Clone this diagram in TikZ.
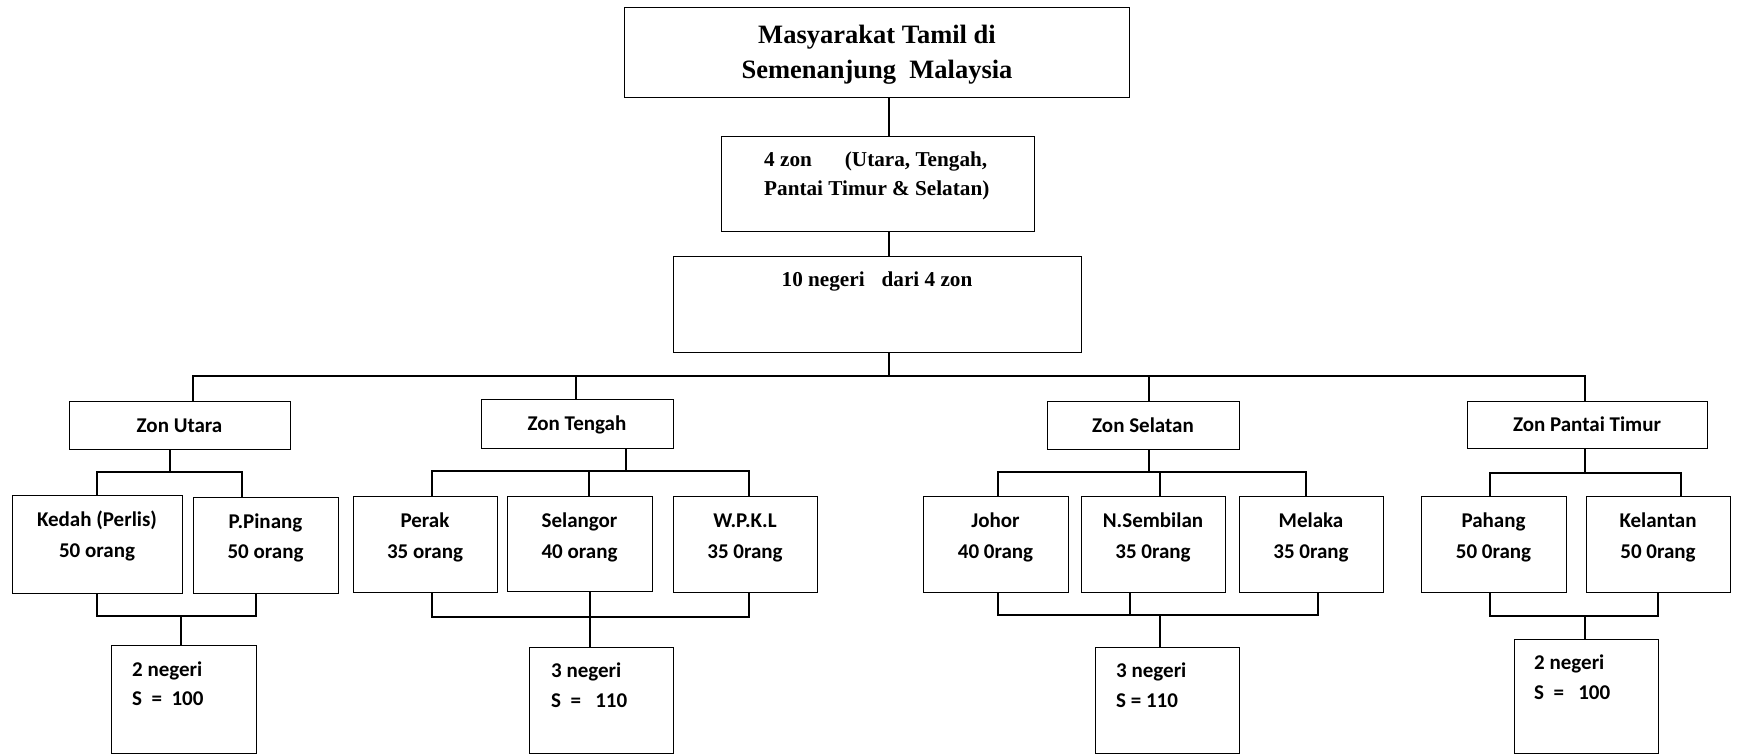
\documentclass[tikz,border=0pt]{standalone}
\usepackage{fontspec}
\setmainfont{Liberation Serif}
\newfontfamily\calfont{Carlito}
\usetikzlibrary{calc}
\tikzset{
  box/.style={draw, line width=1.4pt, anchor=north west, inner sep=0pt},
  conn/.style={line width=1.4pt},
  cal/.style={font=\calfont\bfseries\fontsize{21}{25}\selectfont, inner sep=0pt, anchor=base},
  calw/.style={cal, anchor=base west},
  tms/.style={font=\bfseries\fontsize{21.2}{25}\selectfont, inner sep=0pt, anchor=base},
  tmsw/.style={tms, anchor=base west},
  big/.style={font=\bfseries\fontsize{26.5}{30}\selectfont, inner sep=0pt, anchor=base},
}
\newcommand\mybox[5]{\node[box, minimum width={(#4-#2)*1pt}, minimum height={(#5-#3)*1pt}] (#1) at (#2,#3) {};}
\begin{document}
\begin{tikzpicture}[x=1pt,y=-1pt]
\useasboundingbox (0,0) rectangle (1738,755);
% ---------- boxes
\mybox{top}{624}{7}{1129}{97}
\mybox{zonb}{721}{136}{1034}{231}
\mybox{neg}{673}{256}{1081}{352}
\mybox{zu}{69}{401}{290}{449}
\mybox{zt}{481}{399}{673}{448}
\mybox{zs}{1047}{401}{1239}{449}
\mybox{zp}{1467}{401}{1707}{448}
\mybox{kedah}{12}{495}{182}{593}
\mybox{pinang}{193}{497}{338}{593}
\mybox{perak}{353}{496}{497}{592}
\mybox{selangor}{507}{496}{652}{591}
\mybox{wpkl}{673}{496}{817}{592}
\mybox{johor}{923}{496}{1068}{592}
\mybox{nsemb}{1081}{496}{1225}{592}
\mybox{melaka}{1239}{496}{1383}{592}
\mybox{pahang}{1421}{496}{1566}{592}
\mybox{kelantan}{1586}{496}{1730}{592}
\mybox{sumU}{111}{645}{256}{753}
\mybox{sumT}{529}{647}{673}{753}
\mybox{sumS}{1095}{647}{1239}{753}
\mybox{sumP}{1514}{639}{1658}{753}
% ---------- texts
\node[big] (t1) at (877,43) {Masyarakat Tamil di};
\node[big] (t2) at (877,78) {Semenanjung~ Malaysia};
\node[tmsw] (z1) at (764,166) {4 zon\hspace{33pt}(Utara, Tengah,};
\node[tmsw] (z2) at (764,195) {Pantai Timur \& Selatan)};
\node[tms] (n10) at (877,286) {10 negeri\hspace{17pt}dari 4 zon};
\node[cal] (lzu) at (179.5,432) {Zon Utara};
\node[cal] (lzt) at (577,430) {Zon Tengah};
\node[cal] (lzs) at (1143,432) {Zon Selatan};
\node[cal] (lzp) at (1587,431) {Zon Pantai Timur};
\node[cal] (lk1) at (97,526) {Kedah (Perlis)};
\node[cal] (lk2) at (97,557) {50 orang};
\node[cal] (lp1) at (265.5,528) {P.Pinang};
\node[cal] (lp2) at (265.5,558) {50 orang};
\node[cal] (lpr1) at (425,527) {Perak};
\node[cal] (lpr2) at (425,558) {35 orang};
\node[cal] (ls1) at (579.5,527) {Selangor};
\node[cal] (ls2) at (579.5,558) {40 orang};
\node[cal] (lw1) at (745,527) {W.P.K.L};
\node[cal] (lw2) at (745,558) {35 0rang};
\node[cal] (lj1) at (995.5,527) {Johor};
\node[cal] (lj2) at (995.5,558) {40 0rang};
\node[cal] (ln1) at (1153,527) {N.Sembilan};
\node[cal] (ln2) at (1153,558) {35 0rang};
\node[cal] (lm1) at (1311,527) {Melaka};
\node[cal] (lm2) at (1311,558) {35 0rang};
\node[cal] (lh1) at (1493.5,527) {Pahang};
\node[cal] (lh2) at (1493.5,558) {50 0rang};
\node[cal] (lkl1) at (1658,527) {Kelantan};
\node[cal] (lkl2) at (1658,558) {50 0rang};
\node[calw] (su1) at (132,676) {2 negeri};
\node[calw] (su2) at (132,705) {S~~=~~100};
\node[calw] (st1) at (551,677) {3 negeri};
\node[calw] (st2) at (551,707) {S~~=~~~110};
\node[calw] (ss1) at (1116,677) {3 negeri};
\node[calw] (ss2) at (1116,707) {S = 110};
\node[calw] (sp1) at (1534,669) {2 negeri};
\node[calw] (sp2) at (1534,699) {S~~=~~~100};
% ---------- helper coordinates
\coordinate (xa) at (889,0);
\coordinate (bus) at (889,376);
\foreach \v in {97,193,242,256,432,576,589,749,998,1130,1160,1306,1318,1490,1585,1658,1681}
  {\coordinate (x\v) at (\v,0);}
% ---------- spine
\draw[conn] (top.south -| xa) -- (zonb.north -| xa);
\draw[conn] (zonb.south -| xa) -- (neg.north -| xa);
\draw[conn] (neg.south -| xa) -- (bus);
\draw[conn] (zu.north -| x193) |- (bus) -| (zp.north -| x1585);
\draw[conn] (zt.north -| x576) |- (bus);
\coordinate (sA) at (1149,472);
\draw[conn] (zs.north -| sA) |- (bus);
% ---------- Zon Utara
\coordinate (uA) at (170,472);
\coordinate (uB) at (181,616);
\draw[conn] (zu.south -| uA) -- (uA);
\draw[conn] (kedah.north -| x97) |- (uA) -| (pinang.north -| x242);
\draw[conn] (kedah.south -| x97) |- (uB) -| (pinang.south -| x256);
\draw[conn] (uB) -- (sumU.north -| uB);
% ---------- Zon Tengah
\coordinate (tA) at (626,471);
\coordinate (tB) at (590,617);
\draw[conn] (zt.south -| tA) -- (tA);
\draw[conn] (perak.north -| x432) |- (tA) -| (wpkl.north -| x749);
\draw[conn] (selangor.north -| x589) -- (x589 |- tA);
\draw[conn] (perak.south -| x432) |- (tB) -| (wpkl.south -| x749);
\draw[conn] (selangor.south -| tB) -- (sumT.north -| tB);
% ---------- Zon Selatan
\coordinate (sB) at (1160,615);
\draw[conn] (zs.south -| sA) -- (sA);
\draw[conn] (johor.north -| x998) |- (sA) -| (melaka.north -| x1306);
\draw[conn] (nsemb.north -| x1160) -- (x1160 |- sA);
\draw[conn] (johor.south -| x998) |- (sB) -| (melaka.south -| x1318);
\draw[conn] (nsemb.south -| x1130) -- (x1130 |- sB);
\draw[conn] (sB) -- (sumS.north -| sB);
% ---------- Zon Pantai Timur
\coordinate (pA) at (1585,473);
\coordinate (pB) at (1585,616);
\draw[conn] (zp.south -| pA) -- (pA);
\draw[conn] (pahang.north -| x1490) |- (pA) -| (kelantan.north -| x1681);
\draw[conn] (pahang.south -| x1490) |- (pB) -| (kelantan.south -| x1658);
\draw[conn] (pB) -- (sumP.north -| pB);
\end{tikzpicture}
\end{document}
